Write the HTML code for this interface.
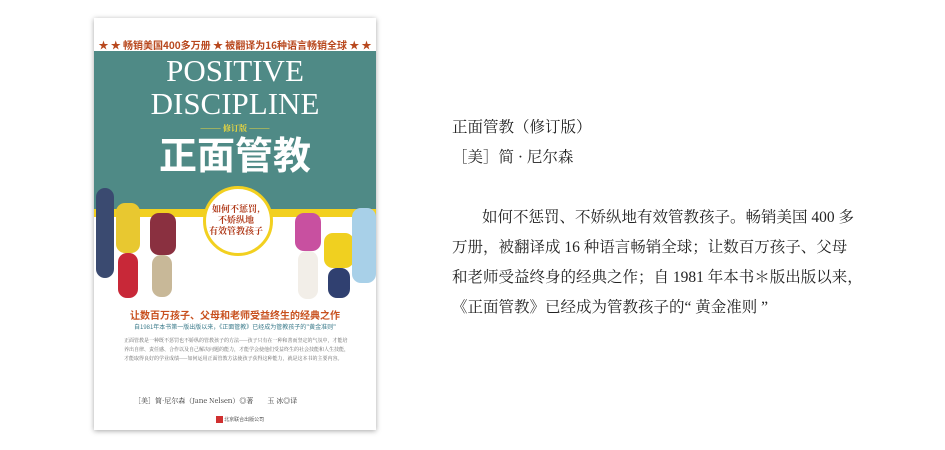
<!DOCTYPE html>
<html><head><meta charset="utf-8">
<style>
html,body{margin:0;padding:0;background:#fff;}
body{width:945px;height:450px;position:relative;overflow:hidden;font-family:"Liberation Serif","Noto Serif CJK SC",serif;}
.t{position:absolute;left:452px;font-size:15.5px;color:#222;white-space:nowrap;line-height:20px;}
.book{position:absolute;left:94px;top:18px;width:282px;height:412px;background:#fff;box-shadow:0 1px 5px rgba(0,0,0,.35);overflow:hidden;}
.c{position:absolute;white-space:nowrap;}
.k{position:absolute;border-radius:9px;}
</style></head><body>
<div class="book">
  <div class="c" style="left:0;top:19px;width:282px;text-align:center;font-size:10px;color:#b8481e;font-weight:bold;font-family:'Noto Sans CJK SC',sans-serif;">★ ★ 畅销美国400多万册 ★ 被翻译为16种语言畅销全球 ★ ★</div>
  <div class="c" style="left:0;top:33px;width:282px;height:158px;background:#4f8a86;"></div>
  <div class="c" style="left:0;top:191px;width:282px;height:8px;background:#f2d020;"></div>
  <div class="c" style="left:0;top:36px;width:282px;text-align:center;color:#fff;font-family:'Liberation Serif',serif;font-size:31px;line-height:33px;">POSITIVE<br>DISCIPLINE</div>
  <div class="c" style="left:0;top:105px;width:282px;text-align:center;color:#e8d640;font-size:8px;font-weight:bold;font-family:'Noto Serif CJK SC',serif;">——— 修订版 ———</div>
  <div class="c" style="left:0;top:112px;width:282px;text-align:center;color:#fff;font-size:38px;font-weight:bold;font-family:'Noto Sans CJK SC',sans-serif;line-height:46px;">正面管教</div>
  <div class="c" style="left:0;top:0;width:282px;height:290px;">
    <div class="k" style="left:2px;top:170px;width:18px;height:90px;background:#3a4a70;"></div>
    <div class="k" style="left:22px;top:185px;width:24px;height:50px;background:#e8c830;"></div>
    <div class="k" style="left:24px;top:235px;width:20px;height:45px;background:#c82838;"></div>
    <div class="k" style="left:56px;top:195px;width:26px;height:42px;background:#8a3040;"></div>
    <div class="k" style="left:58px;top:237px;width:20px;height:42px;background:#c8b898;"></div>
    <div class="k" style="left:201px;top:195px;width:26px;height:38px;background:#c850a0;"></div>
    <div class="k" style="left:204px;top:233px;width:20px;height:48px;background:#f2eee8;"></div>
    <div class="k" style="left:230px;top:215px;width:30px;height:35px;background:#f0d020;"></div>
    <div class="k" style="left:234px;top:250px;width:22px;height:30px;background:#304070;"></div>
    <div class="k" style="left:258px;top:190px;width:24px;height:75px;background:#a8d0e8;"></div>
    <div class="c" style="left:109px;top:168px;width:64px;height:64px;border:3px solid #f2d020;border-radius:50%;background:#fff;"></div>
    <div class="c" style="left:104px;top:185px;width:76px;text-align:center;font-size:9px;line-height:11px;color:#b03a1a;font-weight:bold;font-family:'Noto Serif CJK SC',serif;">如何不惩罚,<br>不娇纵地<br>有效管教孩子</div>
  </div>
  <div class="c" style="left:0;top:289px;width:282px;text-align:center;font-size:10px;color:#c8501e;font-weight:bold;font-family:'Noto Sans CJK SC',sans-serif;">让数百万孩子、父母和老师受益终生的经典之作</div>
  <div class="c" style="left:0;top:304px;width:282px;text-align:center;font-size:6px;color:#3a7a8a;font-family:'Noto Sans CJK SC',sans-serif;">自1981年本书第一版出版以来，《正面管教》已经成为管教孩子的"黄金准则"</div>
  <div class="c" style="left:30px;top:318px;width:225px;white-space:normal;font-size:5px;line-height:9px;color:#666;font-family:'Noto Serif CJK SC',serif;">正面管教是一种既不惩罚也不娇纵的管教孩子的方法——孩子只有在一种和善而坚定的气氛中，才能培养出自律、责任感、合作以及自己解决问题的能力，才能学会使他们受益终生的社会技能和人生技能，才能取得良好的学业成绩——如何运用正面管教方法使孩子获得这种能力，就是这本书的主要内容。</div>
  <div class="c" style="left:40px;top:378px;font-size:7px;color:#333;font-family:'Noto Serif CJK SC',serif;">［美］简·尼尔森（Jane Nelsen）◎著　　玉 冰◎译</div>
  <div class="c" style="left:122px;top:398px;font-size:5px;color:#555;font-family:'Noto Sans CJK SC',sans-serif;"><span style="display:inline-block;width:7px;height:7px;background:#d03030;vertical-align:middle;"></span> 北京联合出版公司</div>
</div>
<div class="t" style="top:118px;">正面管教（修订版）</div>
<div class="t" style="top:148px;">［美］简 · 尼尔森</div>
<div class="t" style="top:208px;left:482px;">如何不惩罚、不娇纵地有效管教孩子。畅销美国 400 多</div>
<div class="t" style="top:238px;">万册，被翻译成 16 种语言畅销全球；让数百万孩子、父母</div>
<div class="t" style="top:268px;">和老师受益终身的经典之作；自 1981 年本书＊版出版以来，</div>
<div class="t" style="top:298px;">《正面管教》已经成为管教孩子的“ 黄金准则 ”</div>
</body></html>
